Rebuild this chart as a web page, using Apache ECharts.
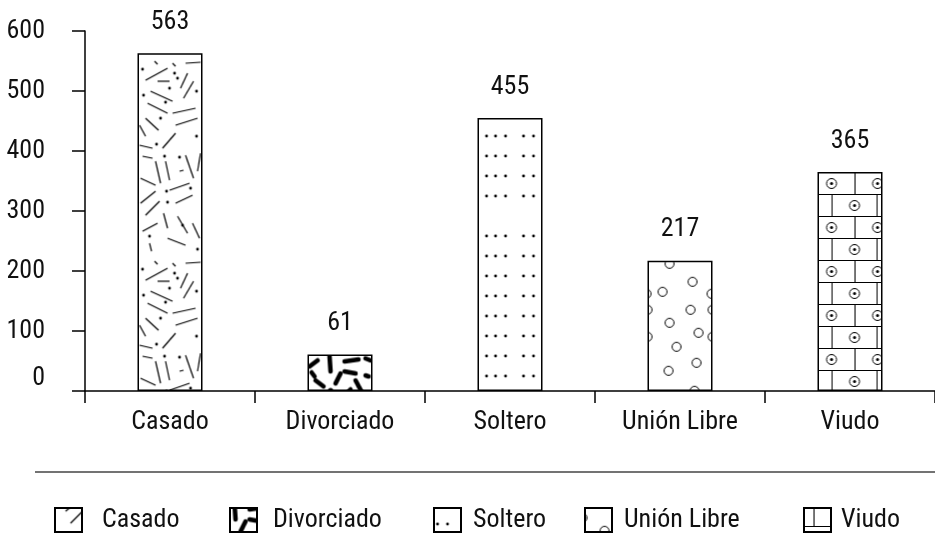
<!DOCTYPE html>
<html><head><meta charset="utf-8">
<script src="https://cdn.jsdelivr.net/npm/echarts@6/dist/echarts.min.js"></script>
<style>html,body{margin:0;padding:0;background:#fff}#c{width:935px;height:534px}</style>
</head><body><div id="c"></div>
<script>
// ---- data ----
const categories = ['Casado', 'Divorciado', 'Soltero', 'Unión Libre', 'Viudo'];
const values = [563, 61, 455, 217, 365];
const yMin = 0, yMax = 600, yStep = 100;

// ---- font selection (narrow font) ----
const mctx = document.createElement('canvas').getContext('2d');
function w(font, s) { mctx.font = font; return mctx.measureText(s).width; }
const probe = 'abcdefghijklmnopqrstuvwxyzABCDEFGHIJ0123456789';
function hasFamily(f) {
  return ['monospace', 'serif'].some(b => Math.abs(w('72px ' + f + ',' + b, probe) - w('72px ' + b, probe)) > 1);
}
const cands = [
  { family: "'Roboto Condensed'", style: '' },
  { family: "'Liberation Sans Narrow'", style: '' },
  { family: "'Arial Narrow'", style: '' },
  { family: "'DejaVu Sans Condensed'", style: '' },
  { family: "Roboto", style: '' }
];
let pick = cands[cands.length - 1];
for (const c of cands) { if (hasFamily(c.family)) { pick = c; break; } }
const FONT = pick.family + ", sans-serif";
const w100 = w('100px ' + FONT, 'Divorciado');
const FS = Math.min(28, Math.round(110 / w100 * 100));
const BAR_W = 65;

function makeTile(wd, h, draw) {
  const c = document.createElement('canvas');
  c.width = wd; c.height = h;
  const g = c.getContext('2d');
  g.fillStyle = '#fff'; g.fillRect(0, 0, wd, h);
  g.strokeStyle = '#000'; g.fillStyle = '#000';
  draw(g, wd, h);
  return c;
}
function segs(g, list, wd, h, lw, cap) {
  g.lineWidth = lw; g.lineCap = cap || 'butt';
  for (const s of list) {
    for (const dy of [-h, 0, h]) for (const dx of [-wd, 0, wd]) {
      g.beginPath(); g.moveTo(s[0] + dx, s[1] + dy); g.lineTo(s[2] + dx, s[3] + dy); g.stroke();
    }
  }
}
function dots(g, list, r, wd, h) {
  for (const d of list) for (const dy of [-h, 0, h]) {
    g.beginPath(); g.arc(d[0], d[1] + dy, r, 0, Math.PI * 2); g.fill();
  }
}
const casadoTile = makeTile(65, 200, (g, wd, h) => {
  segs(g, [
    [8,27,30,15],[20,28,32,28],[17,8,20,11],[35,10,38,13],[48,10,63,9],[43,35,50,20],[46,45,56,28],
    [13,38,35,48],[10,50,30,60],[35,60,58,55],[38,72,60,65],[8,65,21,77],[2,72,8,83],[25,95,38,80],
    [2,92,15,95],[5,103,15,105],[18,108,23,130],[28,108,32,127],[48,102,56,125],[42,118,46,117],
    [3,125,18,132],[32,137,52,130],[38,150,55,142],[3,150,18,138],[8,162,22,148],[26,160,30,175],
    [40,163,50,180],[5,178,20,170],[30,185,48,192],[55,170,62,185],[12,190,14,198],[60,118,63,100]
  ], wd, h, 1.2);
  dots(g, [[5,16],[37,20],[40,25],[32,35],[6,42],[28,49],[59,38],[23,65],[59,83],[19,91],[27,103],
    [42,104],[29,138],[53,135],[30,149],[45,172],[12,183],[60,196]], 1.4, wd, h);
});
const divTile = makeTile(65, 45, (g, wd, h) => {
  segs(g, [
    [2,12,10,6],[22,2,23,17],[37,7,51,5],[37,17,48,19],[58,4,63,6],[8,26,16,32],[28,29,33,19],
    [48,26,55,39],[58,21,61,22],[40,38,43,35],[4,18,7,22]
  ], wd, h, 4.5, 'round');
  dots(g, [[23,36]], 2.6, wd, h);
});
const solteroTile = makeTile(65, 240, (g, wd, h) => {
  const rows = [18, 38, 58, 78, 118, 138, 158, 178, 198, 218, 238];
  const xs = [9, 18, 28, 46, 56];
  const list = [];
  rows.forEach(y => xs.forEach(x => list.push([x, y])));
  dots(g, list, 1.4, wd, h);
});
const unionTile = makeTile(65, 150, (g, wd, h) => {
  const circ = [[22,3],[45,21],[15,31],[64,33],[43,49],[0,49],[22,62],[51,72],[0,76],[29,86],[49,102],[21,110],[47,130],[21,139]];
  g.lineWidth = 1;
  for (const c of circ) for (const dx of [-wd, 0, wd]) for (const dy of [-h, 0, h]) {
    g.beginPath(); g.arc(c[0] + dx, c[1] + dy, 4.5, 0, Math.PI * 2); g.stroke();
  }
});
const viudoTile = makeTile(65, 44, (g, wd, h) => {
  g.lineWidth = 1;
  const L = (x1, y1, x2, y2) => { g.beginPath(); g.moveTo(x1, y1); g.lineTo(x2, y2); g.stroke(); };
  L(0, 0.5, wd, 0.5); L(0, 22.5, wd, 22.5);
  L(37.5, 0, 37.5, 22); L(14.5, 22, 14.5, 44); L(59.5, 22, 59.5, 44);
  const cd = (x, y) => {
    g.beginPath(); g.arc(x, y, 5, 0, Math.PI * 2); g.stroke();
    g.beginPath(); g.arc(x, y, 1.5, 0, Math.PI * 2); g.fill();
  };
  cd(14, 11.5); cd(60, 11.5); cd(37, 33.5);
});
const tiles = [casadoTile, divTile, solteroTile, unionTile, viudoTile];

const chart = echarts.init(document.getElementById('c'), null, { renderer: 'canvas' });
const txt = { fontFamily: FONT, fontSize: FS, color: '#111' };

function buildSeries(offsets) {
  return categories.map((name, i) => ({
    type: 'bar',
    name: name,
    data: categories.map((c, j) => (j === i ? values[i] : '-')),
    barWidth: BAR_W,
    barGap: '-100%',
    itemStyle: {
      color: { image: tiles[i], repeat: 'repeat', x: offsets ? offsets[i][0] : 0, y: offsets ? offsets[i][1] : 0 },
      borderColor: '#000',
      borderWidth: 1.5
    },
    label: Object.assign({ show: true, position: 'top', distance: 18 }, txt)
  }));
}

const legendLefts = [54, 229, 433, 584, 803];
const legendTextPad = [15, 11, 7, 7, 5];

const option = {
  animation: false,
  backgroundColor: '#fff',
  grid: { left: 85, right: 0, top: 31, bottom: 534 - 391, containLabel: false, outerBoundsMode: 'none' },
  xAxis: {
    type: 'category',
    data: categories,
    axisLine: { lineStyle: { color: '#000', width: 1.5 } },
    axisTick: { show: true, length: 12, lineStyle: { color: '#000', width: 1.5 } },
    axisLabel: Object.assign({ margin: 18, interval: 0 }, txt),
    splitLine: { show: false }
  },
  yAxis: {
    type: 'value',
    min: yMin, max: yMax, interval: yStep,
    axisLine: { show: true, lineStyle: { color: '#000', width: 1.5 } },
    axisTick: { show: true, length: 13, lineStyle: { color: '#000', width: 1.5 } },
    axisLabel: Object.assign({
      margin: 40,
      formatter: v => (v === 0 ? '{z|0}' : String(v)),
      rich: { z: Object.assign({ padding: [0, 0, 26, 0] }, txt) }
    }, txt),
    splitLine: { show: false }
  },
  legend: categories.map((name, i) => ({
    data: [name],
    left: legendLefts[i], top: 507,
    padding: 0,
    icon: 'rect',
    itemWidth: 27, itemHeight: 24,
    textStyle: Object.assign({ padding: [0, 0, 0, legendTextPad[i]] }, txt)
  })),
  graphic: [{
    type: 'line', shape: { x1: 35, y1: 472, x2: 935, y2: 472 },
    style: { stroke: '#444', lineWidth: 1.5 }
  }],
  series: buildSeries(null)
};
chart.setOption(option);

const offsets = categories.map((c, i) => {
  const p = chart.convertToPixel({ gridIndex: 0 }, [i, values[i]]);
  return [p[0] - BAR_W / 2, p[1]];
});
chart.setOption({ series: buildSeries(offsets) });
</script>
</body></html>
